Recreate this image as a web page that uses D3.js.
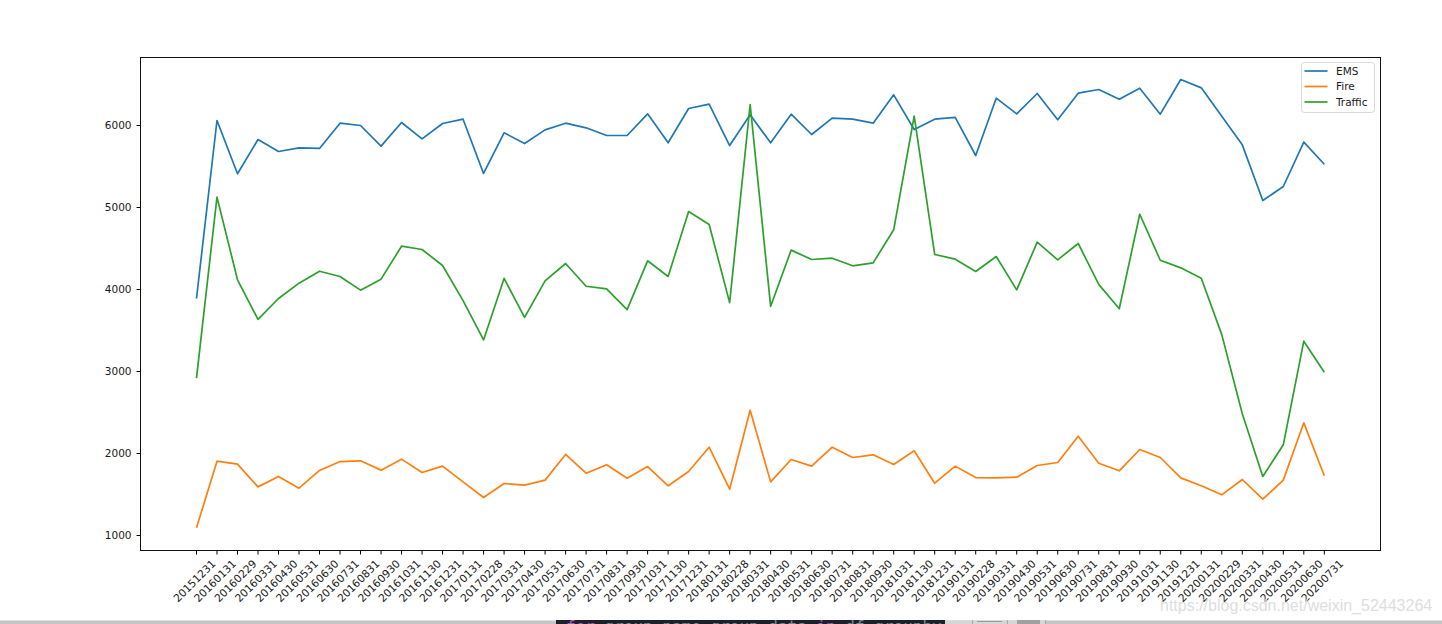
<!DOCTYPE html>
<meta charset="utf-8">
<style>
  html, body { margin: 0; padding: 0; background: #fff; overflow: hidden; }
  text { font-family: "DejaVu Sans", sans-serif; fill: #1a1a1a; }
</style>

<!-- Load d3.js -->
<script src="https://d3js.org/d3.v7.min.js"></script>

<svg width="1442" height="624"></svg>

<script>

const months = ['20151231','20160131','20160229','20160331','20160430','20160531','20160630','20160731',
  '20160831','20160930','20161031','20161130','20161231','20170131','20170228','20170331','20170430',
  '20170531','20170630','20170731','20170831','20170930','20171031','20171130','20171231','20180131',
  '20180228','20180331','20180430','20180531','20180630','20180731','20180831','20180930','20181031',
  '20181130','20181231','20190131','20190228','20190331','20190430','20190531','20190630','20190731',
  '20190831','20190930','20191031','20191130','20191231','20200131','20200229','20200331','20200430',
  '20200531','20200630','20200731'];

const ems = [3890,6061,5411,5829,5683,5728,5720,6028,6000,5748,6037,5837,6024,6077,5415,5911,5780,
  5947,6028,5972,5878,5878,6142,5789,6207,6260,5756,6130,5789,6138,5890,6089,6077,6028,6374,5951,
  6077,6098,5634,6333,6142,6390,6069,6394,6439,6321,6455,6138,6561,6459,6112,5764,5085,5256,5797,5528];

const fire = [1093,1907,1870,1593,1720,1577,1793,1902,1911,1797,1931,1768,1846,1654,1463,1634,1614,
  1675,1988,1760,1862,1699,1841,1606,1780,2077,1565,2528,1654,1927,1846,2077,1951,1984,1866,2033,
  1638,1846,1707,1703,1711,1854,1890,2211,1882,1789,2049,1951,1703,1606,1496,1683,1443,1675,2374,1728];

const traffic = [2920,5126,4118,3635,3890,4077,4223,4159,3992,4126,4528,4488,4293,3865,3385,4135,3660,
  4106,4317,4040,4008,3755,4350,4159,4951,4793,3840,6256,3795,4480,4366,4382,4289,4325,4728,6114,
  4427,4370,4220,4402,3996,4577,4362,4561,4062,3765,4918,4357,4264,4138,3450,2484,1720,2106,3370,2990];

const seriesNames = ['EMS', 'Fire', 'Traffic'];
const seriesValues = [ems, fire, traffic];
const colors = ['#1f77b4', '#ff7f0e', '#2ca02c'];
const yTicks = [1000, 2000, 3000, 4000, 5000, 6000];

// plot area
var margin = {top: 57.5, right: 61.5, bottom: 73.5, left: 140.5},
    width = 1442 - margin.left - margin.right,
    height = 624 - margin.top - margin.bottom;

var svg = d3.select('svg');

var g = svg.append('g')
    .attr('transform', 'translate(' + margin.left + ',' + margin.top + ')');

var x = d3.scalePoint()
    .domain(months)
    .range([-0.4, width + 0.2])
    .padding(2.75);

// 1000 sits at y=535.5 and 6000 at y=125.5 in the page
var y = d3.scaleLinear()
    .domain([1000 - 15 / 0.082, 1000 + 478 / 0.082])
    .range([height, 0]);

var xAxis = g.append('g')
    .attr('transform', 'translate(0,' + height + ')')
    .call(d3.axisBottom(x).offset(0).tickSize(4).tickPadding(4));

xAxis.selectAll('text')
    .style('font-size', '10.7px')
    .style('font-family', '"DejaVu Sans", sans-serif')
    .attr('text-anchor', 'middle')
    .attr('dy', null)
    .attr('y', 0)
    .attr('transform', 'translate(-1.5,31) rotate(-45)')
    .attr('dominant-baseline', 'middle');

var yAxis = g.append('g')
    .call(d3.axisLeft(y).offset(0).tickValues(yTicks).tickFormat(d3.format('d')).tickSize(4).tickPadding(5));

yAxis.selectAll('text')
    .style('font-size', '10.5px')
    .style('font-family', '"DejaVu Sans", sans-serif');

// frame, both axes drop their own domain path
g.selectAll('.domain').remove();
g.append('rect')
    .attr('width', width)
    .attr('height', height)
    .attr('fill', 'none')
    .attr('stroke', '#111')
    .attr('stroke-width', 1);

var line = d3.line()
    .x(function (d, i) { return x(months[i]); })
    .y(function (d) { return y(d); });

g.selectAll('.series')
    .data(seriesValues)
    .enter()
    .append('path')
      .attr('class', 'series')
      .attr('d', line)
      .attr('fill', 'none')
      .attr('stroke', function (d, i) { return colors[i]; })
      .attr('stroke-width', 1.7)
      .attr('stroke-linejoin', 'round');

// legend
var legend = svg.append('g').attr('transform', 'translate(1301.5,62.5)');

legend.append('rect')
    .attr('width', 73)
    .attr('height', 50)
    .attr('rx', 3)
    .attr('fill', '#fff')
    .attr('fill-opacity', 0.8)
    .attr('stroke', '#d9d9d9');

var rowY = d3.scalePoint().domain(seriesNames).range([8.5, 39.5]);

seriesNames.forEach(function (name, i) {
  legend.append('line')
      .attr('x1', 3).attr('x2', 26)
      .attr('y1', rowY(name)).attr('y2', rowY(name))
      .attr('stroke', colors[i])
      .attr('stroke-width', 1.7);
  legend.append('text')
      .attr('x', 34.5)
      .attr('y', rowY(name) + 0.7)
      .attr('dominant-baseline', 'middle')
      .style('font-size', '10.5px')
      .text(name);
});

// screenshot leftovers under the figure: scrollbar, code strip, watermark
svg.append('rect').attr('x', 0).attr('y', 620.5).attr('width', 1442).attr('height', 3.5).attr('fill', '#c4c4c4');
svg.append('rect').attr('x', 556).attr('y', 620).attr('width', 389).attr('height', 4).attr('fill', '#1e1f29');
svg.append('rect').attr('x', 945).attr('y', 620.5).attr('width', 100).attr('height', 3.5).attr('fill', '#d6d6d6');
svg.append('rect').attr('x', 972).attr('y', 620).attr('width', 1).attr('height', 4).attr('fill', '#a8a8a8');
svg.append('rect').attr('x', 977).attr('y', 621).attr('width', 25).attr('height', 1).attr('fill', '#9a9a9a');
svg.append('rect').attr('x', 1007).attr('y', 620).attr('width', 1).attr('height', 4).attr('fill', '#a8a8a8');
svg.append('rect').attr('x', 1017).attr('y', 620).attr('width', 23).attr('height', 4).attr('fill', '#a0a0a0');
svg.append('rect').attr('x', 1045).attr('y', 620).attr('width', 1).attr('height', 4).attr('fill', '#a8a8a8');

svg.append('clipPath').attr('id', 'strip')
  .append('rect').attr('x', 556).attr('y', 620).attr('width', 389).attr('height', 4);

var code = svg.append('text')
    .attr('clip-path', 'url(#strip)')
    .attr('x', 566)
    .attr('y', 631.5)
    .style('font-family', '"DejaVu Sans Mono", monospace')
    .style('font-size', '16px')
    .style('fill', '#7d8896');
code.append('tspan').style('fill', '#a45cb8').text('for');
code.append('tspan').text(' group_name,group_data ');
code.append('tspan').style('fill', '#a45cb8').text('in');
code.append('tspan').text(' df.groupby(');

svg.append('text')
    .attr('x', 1160)
    .attr('y', 611)
    .style('font-family', '"Liberation Sans", sans-serif')
    .style('font-size', '16px')
    .style('fill', '#dedede')
    .text('https://blog.csdn.net/weixin_52443264');

</script>
